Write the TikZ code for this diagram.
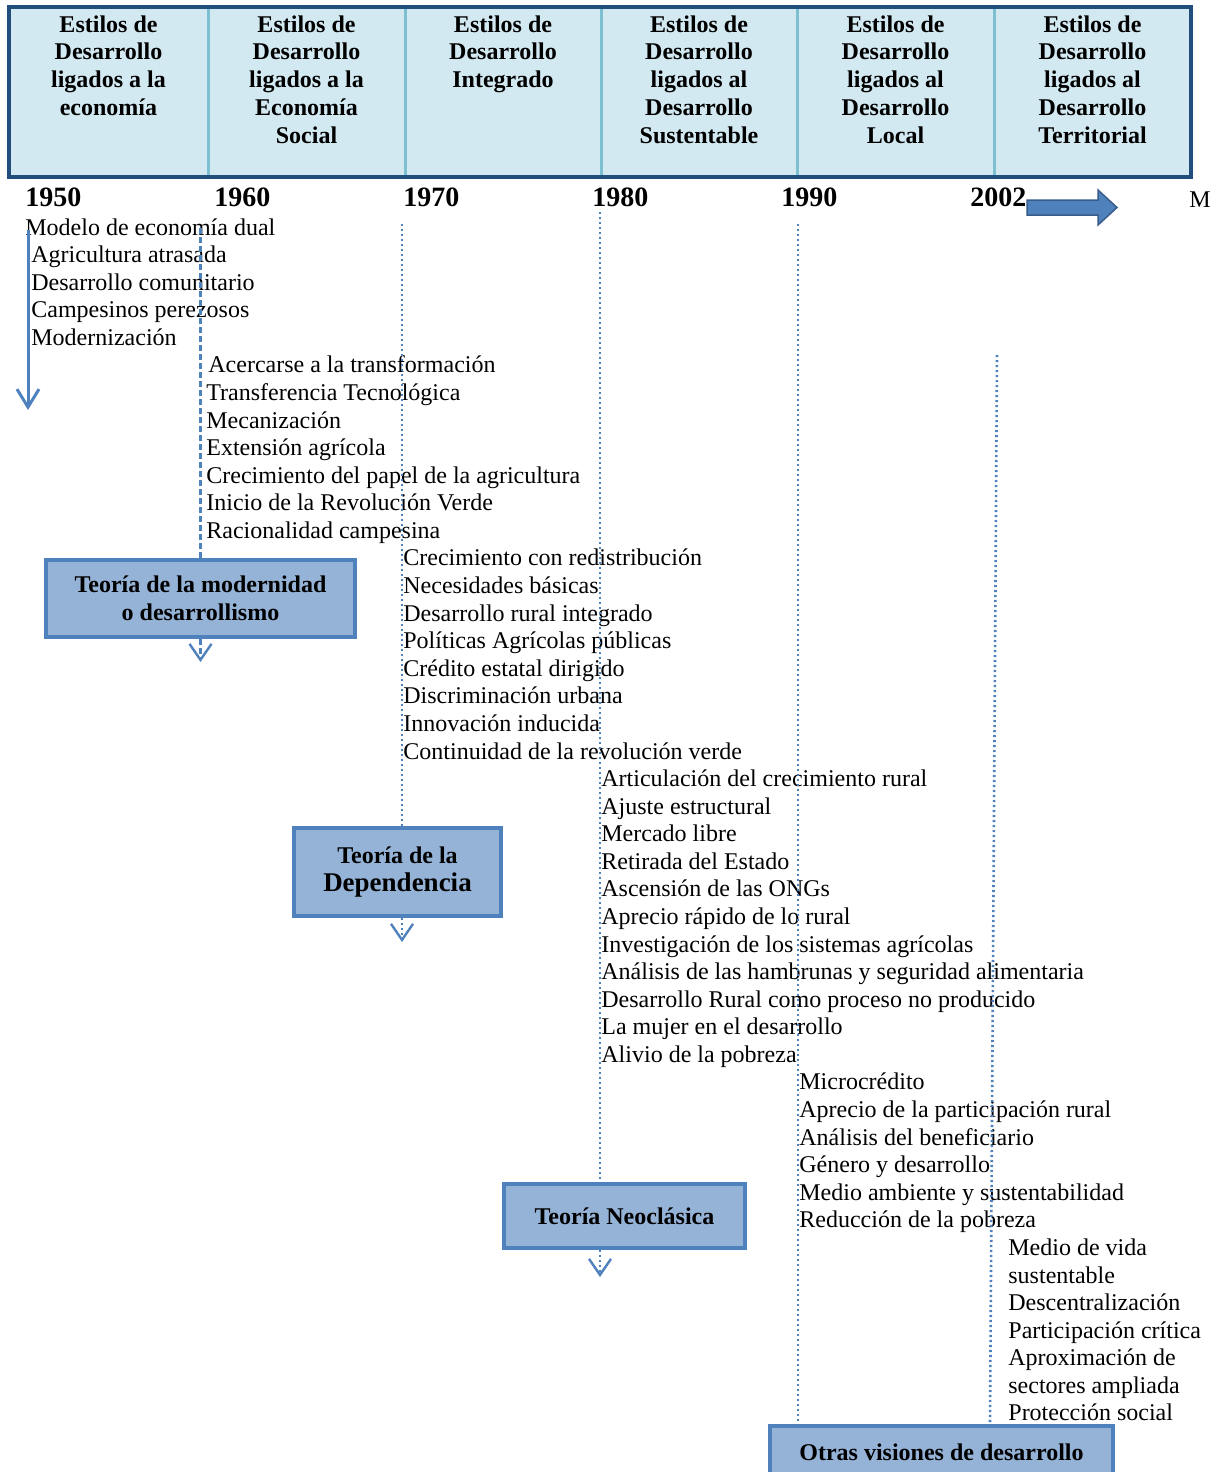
\documentclass[tikz,border=0pt]{standalone}
\usepackage{fontspec}
\setmainfont{Liberation Serif}
\usetikzlibrary{arrows.meta}

\definecolor{hdrfill}{HTML}{D3E9F1}
\definecolor{hdrline}{HTML}{7DC0D3}
\definecolor{hdrframe}{HTML}{224E7D}
\definecolor{boxfill}{HTML}{95B3D7}
\definecolor{boxline}{HTML}{4F81BD}
\definecolor{arrdark}{HTML}{385D8A}

\begin{document}
\begin{tikzpicture}[
        x=0.5pt, y=-0.5pt,
        header/.style={anchor=north, align=center, inner sep=0pt, font=\fontsize{12}{13.9}\selectfont\bfseries},
        year/.style={anchor=base west, inner sep=0pt, font=\fontsize{14}{16}\selectfont\bfseries},
        item/.style={anchor=base west, inner sep=0pt, font=\fontsize{12}{13.8}\selectfont},
        theory/.style={draw=boxline, fill=boxfill, line width=2.2pt, align=center, font=\fontsize{12}{14}\selectfont\bfseries},
        dashline/.style={boxline, line width=1.2pt, dash pattern=on 3pt off 1.5pt},
        dotline/.style={boxline, line width=1.3pt, dash pattern=on 1.1pt off 1.4pt},
        vtip/.style={-{Straight Barb[length=8pt, width=11pt, line width=1.2pt]}}
    ]
        \path[use as bounding box, clip] (0,0) rectangle (1217,1472);

        % Header
        \fill[hdrfill] (9,7) rectangle (1191,177);
        \foreach \x in {208,405,601,797,994}
            \draw[hdrline, line width=1.5pt] (\x,9) -- (\x,175);
        \draw[hdrframe, line width=2pt] (9,7) rectangle (1191,177);
        \foreach \x/\t [count=\i] in {
            108.5/{Estilos de\\Desarrollo\\ligados a la\\economía},
            306.5/{Estilos de\\Desarrollo\\ligados a la\\Economía\\Social},
            503/{Estilos de\\Desarrollo\\Integrado},
            699/{Estilos de\\Desarrollo\\ligados al\\Desarrollo\\Sustentable},
            895.5/{Estilos de\\Desarrollo\\ligados al\\Desarrollo\\Local},
            1092.5/{Estilos de\\Desarrollo\\ligados al\\Desarrollo\\Territorial}}
            \node[header] (h\i) at (\x,15) {\t};

        % Years
        \foreach \x/\yr in {25/1950, 214/1960, 403/1970, 592/1980, 781/1990, 970/2002}
            \node[year] (y\yr) at (\x,206) {\yr};
        \node[item] (m) at (1189,207) {M};
        \draw[arrdark, fill=boxline, line width=0.75pt]
            (1027,200) -- (1098,200) -- (1098,190) -- (1117,207.5)
            -- (1098,225) -- (1098,215) -- (1027,215) -- cycle;

        % Lists
        \node[item] (g1) at (25,235) {Modelo de economía dual};
        \foreach \t [count=\k] in {Agricultura atrasada, Desarrollo comunitario,
            Campesinos perezosos, Modernización}
            \node[item] (g1-\k) at (31,{235+27.58*\k}) {\t};

        \node[item] (g2) at (208,{235+27.58*5}) {Acercarse a la transformación};
        \foreach \t [count=\k from 6] in {Transferencia Tecnológica, Mecanización,
            Extensión agrícola, Crecimiento del papel de la agricultura,
            Inicio de la Revolución Verde, Racionalidad campesina}
            \node[item] (g2-\k) at (206,{235+27.58*\k}) {\t};

        \foreach \t [count=\k from 12] in {Crecimiento con redistribución,
            Necesidades básicas, Desarrollo rural integrado, Políticas Agrícolas públicas,
            Crédito estatal dirigido, Discriminación urbana, Innovación inducida,
            Continuidad de la revolución verde}
            \node[item] (g3-\k) at (403,{235+27.58*\k}) {\t};

        \foreach \t [count=\k from 20] in {Articulación del crecimiento rural,
            Ajuste estructural, Mercado libre, Retirada del Estado, Ascensión de las ONGs,
            Aprecio rápido de lo rural, Investigación de los sistemas agrícolas,
            Análisis de las hambrunas y seguridad alimentaria,
            Desarrollo Rural como proceso no producido, La mujer en el desarrollo,
            Alivio de la pobreza}
            \node[item] (g4-\k) at (601,{235+27.58*\k}) {\t};

        \foreach \t [count=\k from 31] in {Microcrédito, Aprecio de la participación rural,
            Análisis del beneficiario, Género y desarrollo,
            Medio ambiente y sustentabilidad, Reducción de la pobreza}
            \node[item] (g5-\k) at (799,{235+27.58*\k}) {\t};

        \foreach \t [count=\k from 37] in {Medio de vida, sustentable, Descentralización,
            Participación crítica, Aproximación de, sectores ampliada, Protección social}
            \node[item] (g6-\k) at (1008,{235+27.58*\k}) {\t};

        % Theory boxes
        \node[theory, minimum width=154.5pt, minimum height=38.5pt] (teo1) at (200.5,598.5)
            {Teoría de la modernidad\\o desarrollismo};
        \node[theory, minimum width=103.5pt, minimum height=44pt] (teo2) at (397.5,872)
            {Teoría de la\\{\fontsize{13.5}{15}\selectfont Dependencia}};
        \node[theory, minimum width=120.5pt, minimum height=32pt] (teo3) at (624.5,1216)
            {Teoría Neoclásica};
        \node[theory, minimum width=171.5pt, minimum height=26pt] (teo4) at (941.5,1452)
            {Otras visiones de desarrollo};

        % Time lines
        \coordinate (a0) at (28,230);
        \coordinate (a1) at (28,410);
        \draw[boxline, line width=1.5pt, -{Straight Barb[length=9pt, width=11pt]}] (a0) -- (a1);

        \coordinate (s60) at (200.5,228);
        \coordinate (e60) at (200.5,662);
        \draw[dashline] (s60) -- (teo1.north);
        \draw[dashline, vtip] (teo1.south) -- (e60);

        \coordinate (s70) at (402,224);
        \coordinate (e70) at (402,942);
        \draw[dotline] (s70) -- (s70 |- teo2.north);
        \draw[dotline, vtip] (s70 |- teo2.south) -- (e70);

        \coordinate (s80) at (600,212);
        \coordinate (e80) at (600,1277);
        \draw[dotline] (s80) -- (s80 |- teo3.north);
        \draw[dotline, vtip] (s80 |- teo3.south) -- (e80);

        \coordinate (s90) at (798,224);
        \draw[dotline] (s90) -- (s90 |- teo4.north);

        \coordinate (s02) at (997,355);
        \coordinate (t02) at (990,1424);
        \draw[dotline] (s02) -- (t02);
    \end{tikzpicture}
\end{document}
